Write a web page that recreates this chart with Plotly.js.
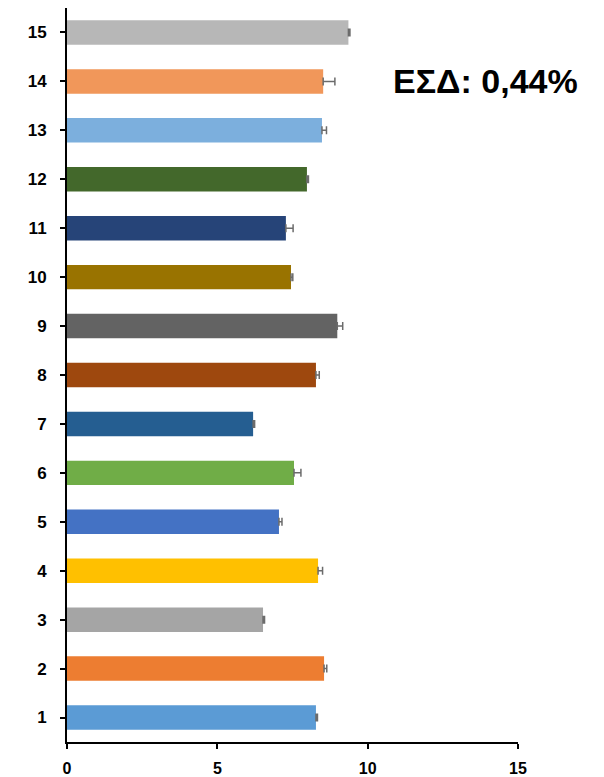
<!DOCTYPE html>
<html>
<head>
<meta charset="utf-8">
<script src="https://cdn.plot.ly/plotly-3.0.1.min.js"></script>
<style>html,body{margin:0;padding:0;background:#fff;}#chart{width:604px;height:777px;}</style>
</head>
<body>
<div id="chart"></div>
<script>
const categories = ['1','2','3','4','5','6','7','8','9','10','11','12','13','14','15'];
const values = [8.28, 8.55, 6.52, 8.35, 7.05, 7.55, 6.19, 8.28, 8.99, 7.45, 7.28, 7.98, 8.48, 8.52, 9.36];
const errors = [0.05, 0.09, 0.05, 0.15, 0.10, 0.23, 0.05, 0.11, 0.18, 0.06, 0.24, 0.05, 0.15, 0.39, 0.05];
const errorsMinus = [0, 0, 0, 0, 0, 0, 0, 0, 0, 0, 0, 0, 0, 0, 0];
const colors = ['#5B9BD5','#ED7D31','#A5A5A5','#FFC000','#4472C4','#70AD47','#255E91','#9E480E','#636363','#997300','#264478','#43682B','#7CAFDD','#F1975A','#B7B7B7'];
const xTicks = [0, 5, 10, 15];
const annotationText = 'ΕΣΔ: 0,44%';

const trace = {
  type: 'bar',
  orientation: 'h',
  y: categories.map(Number),
  x: values,
  marker: {color: colors, line: {width: 0}},
  error_x: {type: 'data', symmetric: false, array: errors, arrayminus: errorsMinus, visible: true, color: '#6b6b6b', thickness: 1.5, width: 4},
  hoverinfo: 'none'
};

const layout = {
  width: 604, height: 777,
  margin: {l: 67, r: 86, t: 8, b: 35},
  paper_bgcolor: '#fff', plot_bgcolor: '#fff',
  bargap: 0.5,
  showlegend: false,
  font: {family: 'Liberation Sans, Arial, sans-serif', color: '#000'},
  xaxis: {
    range: [0, 15], tickvals: xTicks, ticktext: xTicks.map(String),
    showgrid: false, zeroline: false, showline: true, linecolor: '#000', linewidth: 2,
    ticks: 'outside', ticklen: 5, tickwidth: 2, tickcolor: '#000', ticklabelstandoff: 6,
    tickfont: {size: 16, weight: 'bold', color: '#000'}, fixedrange: true
  },
  yaxis: {
    range: [0.5, 15.5], tickvals: categories.map(Number), ticktext: categories,
    showgrid: false, zeroline: false, showline: true, linecolor: '#000', linewidth: 2,
    ticks: 'outside', ticklen: 5, tickwidth: 2, tickcolor: '#000', ticklabelstandoff: 10,
    tickfont: {size: 17, weight: 'bold', color: '#000'}, fixedrange: true
  },
  annotations: [{
    text: annotationText, xref: 'paper', yref: 'paper',
    x: 1.138, y: 0.900, xanchor: 'right', yanchor: 'middle', showarrow: false,
    font: {size: 34, weight: 'bold', color: '#000', family: 'Liberation Sans, Arial, sans-serif'}
  }]
};

Plotly.newPlot('chart', [trace], layout, {displayModeBar: false, staticPlot: true});
</script>
</body>
</html>
